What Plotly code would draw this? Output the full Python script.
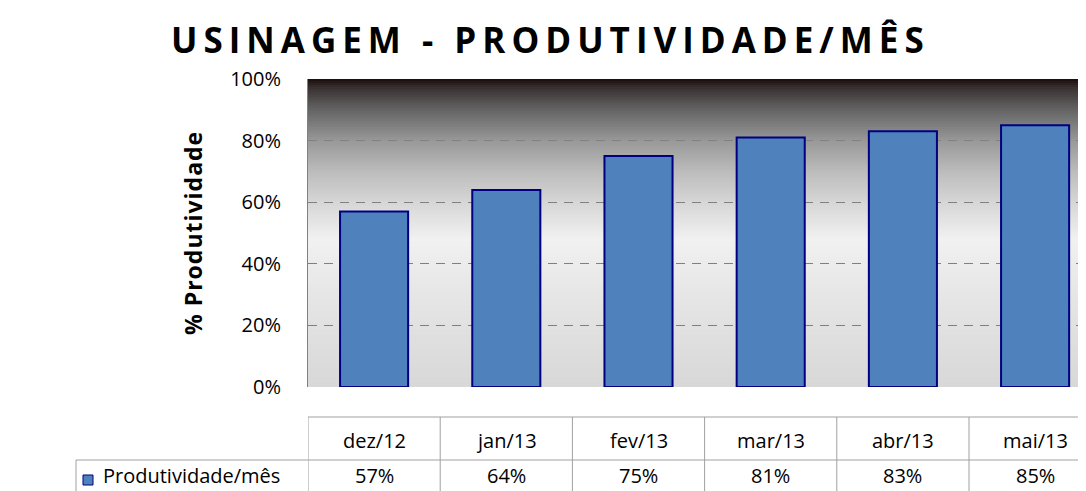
import plotly.graph_objects as go

# ---- data ----
categories = ["dez/12", "jan/13", "fev/13", "mar/13", "abr/13", "mai/13"]
values = [57, 64, 75, 81, 83, 85]
series_name = "Produtividade/mês"
y_ticks = [0, 20, 40, 60, 80, 100]
title_text = "USINAGEM - PRODUTIVIDADE/MÊS"
y_title = "% Produtividade"

# ---- geometry helpers (page pixel -> paper) ----
W, H = 1086, 491          # page size
OFF = 8                   # default body margin of the html page
L, T, B = 308, 79, 104    # plot area in page pixels: left, top, bottom margin
PW, PH = W - L, H - T - B
CAT_PX = 132.2


def px(x):
    return (x - L) / PW


def py(y):
    return (H - B - y) / PH


FONT = "Open Sans"
BAR_FILL = "#4f81bd"
BAR_LINE = "#000080"
GRID = "#808080"
TABLE_LINE = "#a0a0a0"

fig = go.Figure()
fig.add_trace(go.Bar(
    x=list(range(len(categories))), y=values, width=0.515,
    marker=dict(color=BAR_FILL, line=dict(color=BAR_LINE, width=2)),
    name=series_name, showlegend=False, hoverinfo="skip",
))

shapes = []
# gradient background of plot area
stops = [
    (0.00, (26, 12, 12)),
    (0.03, (58, 50, 50)),
    (0.10, (100, 100, 100)),
    (0.20, (152, 152, 152)),
    (0.30, (188, 188, 188)),
    (0.40, (214, 214, 214)),
    (0.52, (241, 241, 241)),
    (0.65, (233, 233, 233)),
    (0.80, (225, 225, 225)),
    (1.00, (216, 216, 216)),
]


def col_at(t):
    for (t0, c0), (t1, c1) in zip(stops[:-1], stops[1:]):
        if t0 <= t <= t1:
            f = (t - t0) / (t1 - t0) if t1 > t0 else 0
            return "rgb(%d,%d,%d)" % tuple(round(a + (b - a) * f) for a, b in zip(c0, c1))
    return "rgb(%d,%d,%d)" % stops[-1][1]


N = 154
for i in range(N):
    t = (i + 0.5) / N  # from top
    y1 = 1 - i / N
    y0 = 1 - (i + 1) / N
    shapes.append(dict(type="rect", xref="x domain", yref="y domain",
                       x0=0, x1=1, y0=max(0, y0 - 0.002), y1=y1,
                       fillcolor=col_at(t), line=dict(width=0), layer="below"))

# data table
tbl_top, tbl_row, tbl_bot = py(417), py(460), py(500)
shapes.append(dict(type="line", xref="x", yref="paper", x0=-0.5, x1=len(categories) - 0.5,
                   y0=tbl_top, y1=tbl_top, line=dict(color=TABLE_LINE, width=1)))
shapes.append(dict(type="line", xref="paper", yref="paper", x0=px(76), x1=1,
                   y0=tbl_row, y1=tbl_row, line=dict(color=TABLE_LINE, width=1)))
shapes.append(dict(type="line", xref="paper", yref="paper", x0=px(76), x1=px(76),
                   y0=tbl_row, y1=tbl_bot, line=dict(color=TABLE_LINE, width=1)))
for i in range(len(categories) + 1):
    shapes.append(dict(type="line", xref="x", yref="paper", x0=i - 0.5, x1=i - 0.5,
                       y0=tbl_top, y1=tbl_bot, line=dict(color=TABLE_LINE, width=1)))
# legend key
shapes.append(dict(type="rect", xref="paper", yref="paper", x0=px(83), x1=px(93),
                   y0=py(485), y1=py(475), fillcolor=BAR_FILL,
                   line=dict(color=BAR_LINE, width=1)))

annotations = []
tfont = dict(family=FONT, size=20, color="#000")
for i, (c, v) in enumerate(zip(categories, values)):
    annotations.append(dict(x=i, xref="x", y=py(440), yref="paper", text=c,
                            showarrow=False, font=tfont,
                            xanchor="center", yanchor="middle"))
    annotations.append(dict(x=i, xref="x", y=py(476), yref="paper", text=f"{v}%",
                            showarrow=False, font=tfont,
                            xanchor="center", yanchor="middle"))
annotations.append(dict(x=px(101), xref="paper", y=py(476), yref="paper", text=series_name,
                        showarrow=False, font=tfont,
                        xanchor="left", yanchor="middle"))
annotations.append(dict(x=px(193), xref="paper", y=0.5, yref="paper",
                        text=f"<b><span style='letter-spacing:1px'>{y_title}</span></b>",
                        textangle=-90,
                        showarrow=False, font=dict(family=FONT, size=23, color="#000"),
                        xanchor="center", yanchor="middle"))
annotations.append(dict(x=px(550), xref="paper", y=py(40), yref="paper",
                        text=f"<b><span style='letter-spacing:6px'>{title_text}</span></b>",
                        showarrow=False, font=dict(family=FONT, size=35, color="#000"),
                        xanchor="center", yanchor="middle"))

fig.update_layout(
    width=W - OFF, height=H - OFF,
    margin=dict(l=L - OFF, r=0, t=T - OFF, b=B, pad=0),
    paper_bgcolor="white", plot_bgcolor="rgba(0,0,0,0)",
    shapes=shapes, annotations=annotations,
    showlegend=False,
    xaxis=dict(range=[-0.5, -0.5 + PW / CAT_PX], showgrid=False, showticklabels=False,
               zeroline=False, showline=False, ticks="", fixedrange=True),
    yaxis=dict(range=[0, 100], tickvals=y_ticks, ticktext=[f"{t}%" for t in y_ticks],
               showgrid=True, gridcolor=GRID, gridwidth=1, griddash="9px,7px",
               zeroline=False, showline=True, linecolor=GRID, linewidth=1,
               ticks="", ticklabelstandoff=22,
               tickfont=dict(family=FONT, size=20, color="#000"), fixedrange=True),
    font=dict(family=FONT),
)

fig.write_html("out.html")
